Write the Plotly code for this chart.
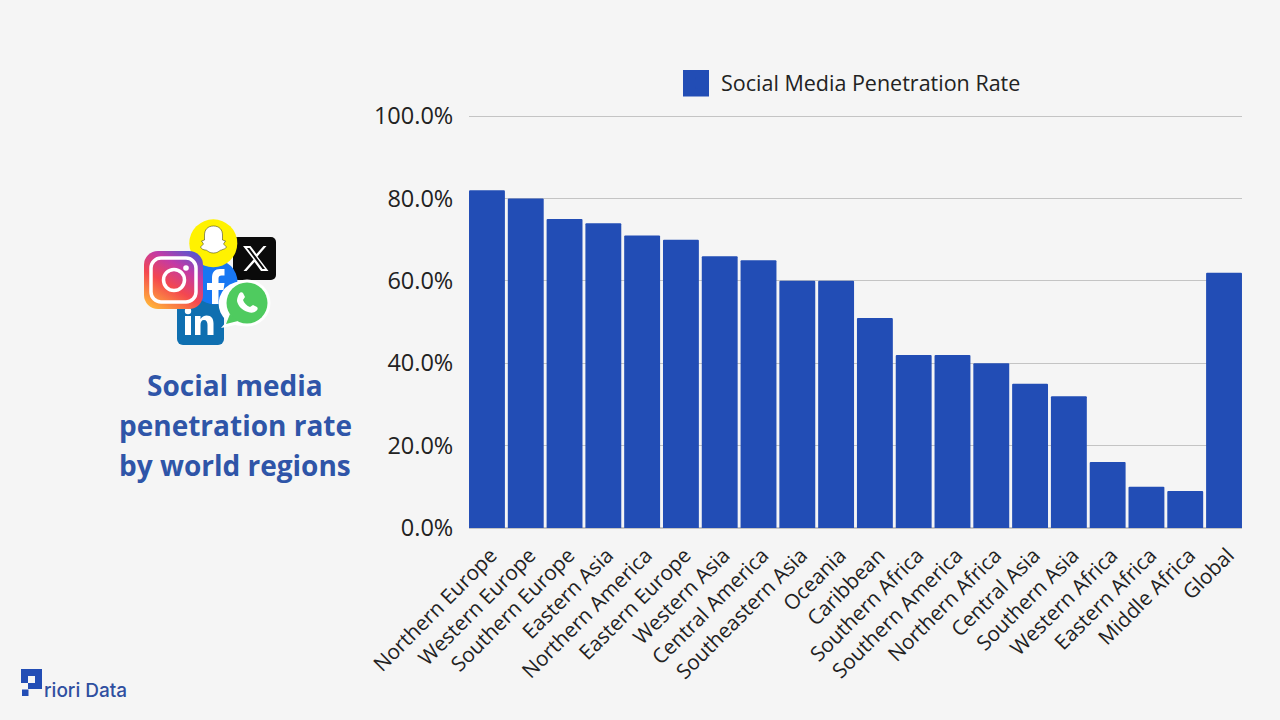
import base64
import plotly.graph_objects as go

regions = ["Northern Europe", "Western Europe", "Southern Europe", "Eastern Asia", "Northern America",
           "Eastern Europe", "Western Asia", "Central America", "Southeastern Asia", "Oceania", "Caribbean",
           "Southern Africa", "Southern America", "Northern Africa", "Central Asia", "Southern Asia",
           "Western Africa", "Eastern Africa", "Middle Africa", "Global"]
penetration = [82, 80, 75, 74, 71, 70, 66, 65, 60, 60, 51, 42, 42, 40, 35, 32, 16, 10, 9, 62]
y_ticks = [0, 20, 40, 60, 80, 100]
y_tick_labels = ["0.0%", "20.0%", "40.0%", "60.0%", "80.0%", "100.0%"]
series_name = "Social Media Penetration Rate"
title_lines = ["Social media", "penetration rate", "by world regions"]

W, H = 1280, 720
L, R, T, B = 469, 1242, 112, 528
BAR = "#224DB5"
TITLE = "#2F55A8"
FONT = "Open Sans"


def px(x):
    return (x - L) / (R - L)


def py(y):
    return (B - y) / (B - T)


icons_svg = """<svg xmlns="http://www.w3.org/2000/svg" width="560" height="560" viewBox="140 215 140 140">
<defs><linearGradient id="ig" x1="0.2" y1="1" x2="0.8" y2="0">
<stop offset="0" stop-color="#FFB03A"/><stop offset="0.4" stop-color="#F4474F"/>
<stop offset="0.72" stop-color="#C23AA6"/><stop offset="1" stop-color="#5A55CF"/></linearGradient></defs>
<rect x="177" y="300" width="47" height="45" rx="6" fill="#0F6FB0"/>
<rect x="185" y="316" width="6" height="19" fill="#fff"/><circle cx="188" cy="311" r="3.200" fill="#fff"/>
<path d="M195 316h5.500v3c2-3 4-3.500 6-3.500 5 0 7 3 7 8V335h-6v-10c0-3-1-5-3.500-5s-3.500 2-3.500 5v10h-5.500z" fill="#fff"/>
<rect x="233" y="237" width="43" height="43" rx="5" fill="#0a0a0a"/>
<path d="M243 246h7.500l6 8 7-8h3l-9 10.500 11 14.500h-7.500l-6.500-9-8 9h-3l10-11.500z M247 248l15.500 21h2.500l-15.500-21z" fill="#fff" fill-rule="evenodd"/>
<circle cx="215" cy="282" r="22.500" fill="#1877F2"/>
<path d="M212 304v-14h-5v-7h5v-5c0-6 3-9 8-9h4.500v6.500h-3c-2 0-3 1-3 3v4.500h6l-1 7h-5v14z" fill="#fff"/>
<circle cx="213.300" cy="243.300" r="24" fill="#FFF200"/>
<path d="M213.500 226c6 0 9 4 9 9v5l3 1-2 3 3 3c-1 2-3 2-5 3-2 0-3 3-8 3s-6-3-8-3-4-1-5-3l3-3-2-3 3-1v-5c0-5 3-9 9-9z" fill="#fff" stroke="#222" stroke-width="0.5"/>
<circle cx="247" cy="303" r="23.500" fill="#fff"/>
<path d="M221 328l6-7a22 22 0 1 1 8 4z" fill="#fff"/>
<circle cx="247" cy="303" r="20.500" fill="#4FCB5F"/>
<path d="M226 324l4-10 8 7z" fill="#4FCB5F"/>
<path d="M239 294c1-2 3-2 4-1l2 4-2 3c1 3 4 6 7 7l3-2 4 2c1 1 1 3-1 4-2 2-5 2-8 1-6-2-10-6-11-11 0-3 1-5 2-7z" fill="#fff"/>
<rect x="144" y="251" width="59" height="58" rx="14" fill="url(#ig)"/>
<rect x="151" y="258" width="45" height="44" rx="10" fill="none" stroke="#fff" stroke-width="3.500"/>
<circle cx="174" cy="280" r="10.500" fill="none" stroke="#fff" stroke-width="3.500"/>
<circle cx="186" cy="268" r="2.800" fill="#fff"/>
</svg>"""

logo_svg = """<svg xmlns="http://www.w3.org/2000/svg" width="240" height="240" viewBox="20 668 30 30">
<path d="M21 669H42V689H28V683H35V676H28V683H21Z" fill="#224DB5"/>
<rect x="22" y="689.500" width="6.500" height="6.500" fill="#224DB5"/>
</svg>"""


def uri(svg):
    return "data:image/svg+xml;base64," + base64.b64encode(svg.encode()).decode()


def image(svg, x0, y0, x1, y1):
    return dict(source=uri(svg), xref="paper", yref="paper", x=px(x0), y=py(y0),
                sizex=(x1 - x0) / (R - L), sizey=(y1 - y0) / (B - T),
                xanchor="left", yanchor="top", sizing="stretch", layer="above")


fig = go.Figure(go.Bar(x=regions, y=penetration, name=series_name,
                       marker=dict(color=BAR, line_width=0, cornerradius=1.5), showlegend=True))

annotations = [dict(text=t, xref="paper", yref="paper", x=px(235), y=py(yy), showarrow=False,
                    xanchor="center", yanchor="middle",
                    font=dict(family=FONT, size=28, color=TITLE, weight=700))
               for t, yy in zip(title_lines, [385, 425, 465])]
annotations.append(dict(text="riori Data", xref="paper", yref="paper", x=px(42), y=py(690), showarrow=False,
                        xanchor="left", yanchor="middle",
                        font=dict(family="Inter", size=19, color="#2F4FA0", weight=500)))

fig.update_layout(
    width=W, height=H, autosize=False,
    margin=dict(l=L, r=W - R, t=T, b=H - B, pad=0),
    paper_bgcolor="#F5F5F5", plot_bgcolor="#F5F5F5",
    font=dict(family=FONT, color="#222222"),
    bargap=0.075,
    showlegend=True,
    legend=dict(orientation="h", xref="paper", yref="paper", x=px(681), y=py(83),
                xanchor="left", yanchor="middle", bgcolor="rgba(0,0,0,0)",
                font=dict(family=FONT, size=21.5, color="#222222")),
    xaxis=dict(tickangle=-45, tickfont=dict(size=20.7, color="#222222"), ticks="outside", ticklen=6,
               tickcolor="rgba(0,0,0,0)", ticklabelshift=4, showgrid=False, range=[-0.463, 19.463],
               showline=False, zeroline=False, automargin=False, categoryorder="array", categoryarray=regions),
    yaxis=dict(range=[0, 101], tickvals=y_ticks, ticktext=y_tick_labels, ticks="outside", ticklen=10,
               tickcolor="rgba(0,0,0,0)", tickfont=dict(size=23.5, color="#222222"),
               gridcolor="#C4C4C4", gridwidth=1, showline=False, zeroline=True, zerolinecolor="#C4C4C4",
               automargin=False),
    shapes=[dict(type="rect", xref="paper", yref="paper", x0=px(683), x1=px(709), y0=py(70), y1=py(96.5),
                 fillcolor=BAR, line_width=0)],
    annotations=annotations,
    images=[image(icons_svg, 140, 215, 280, 355), image(logo_svg, 20, 668, 50, 698)],
)

fig.write_html("out.html", config=dict(displayModeBar=False),
               post_script="document.body.style.margin='0';document.body.style.background='#F5F5F5';")
